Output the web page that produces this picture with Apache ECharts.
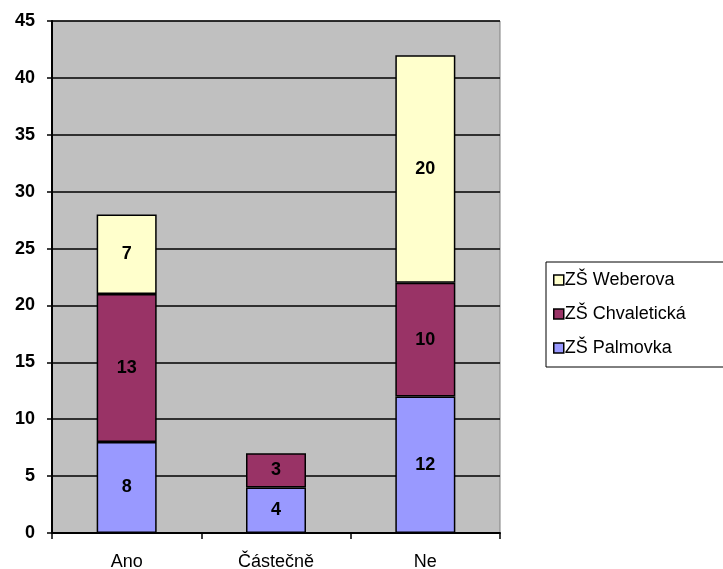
<!DOCTYPE html>
<html><head><meta charset="utf-8">
<script src="https://cdn.jsdelivr.net/npm/echarts@6/dist/echarts.min.js"></script>
<style>html,body{margin:0;padding:0;background:#fff}#c{width:723px;height:569px}</style>
</head><body><div id="c"></div>
<script>
const categories = ['Ano', 'Částečně', 'Ne'];
const palmovka = [8, 4, 12];
const chvaleticka = [13, 3, 10];
const weberova = [7, null, 20];
const seriesNames = ['ZŠ Palmovka', 'ZŠ Chvaletická', 'ZŠ Weberova'];
const colors = ['#9999FF', '#993366', '#FFFFCC'];

const chart = echarts.init(document.getElementById('c'));
const font = 'Arial, "Liberation Sans", sans-serif';
function mk(name, data, color) {
  return {
    name, type: 'bar', stack: 's', data, barWidth: 60,
    itemStyle: { color, borderColor: '#000', borderWidth: 1.5 },
    label: { show: true, position: 'inside', color: '#000', fontWeight: 'bold', fontSize: 18, fontFamily: font,
      formatter: p => p.value == null ? '' : p.value }
  };
}
chart.setOption({
  animation: false,
  grid: { left: 52, right: 223, top: 21, bottom: 36, outerBoundsMode: 'none', containLabel: false,
    show: true, backgroundColor: '#C0C0C0', borderColor: '#808080', borderWidth: 1 },
  legend: {
    orient: 'vertical', left: 546, top: 262, width: 176,
    data: ['ZŠ Weberova', 'ZŠ Chvaletická', 'ZŠ Palmovka'],
    itemWidth: 10, itemHeight: 10, itemGap: 16,
    padding: [9, 40, 10, 7],
    borderColor: '#000', borderWidth: 1,
    icon: 'rect',
    itemStyle: { borderColor: '#000', borderWidth: 1.5 },
    textStyle: { fontSize: 18, fontFamily: font, color: '#000', padding: [0, 0, 0, -4] }
  },
  xAxis: {
    type: 'category', data: categories,
    axisLine: { lineStyle: { color: '#000', width: 2 } },
    axisTick: { show: true, length: 6, lineStyle: { color: '#000', width: 1.5 } },
    axisLabel: { fontSize: 18, fontFamily: font, color: '#000', margin: 20 }
  },
  yAxis: {
    type: 'value', min: 0, max: 45, interval: 5,
    axisLine: { show: true, lineStyle: { color: '#000', width: 2 } },
    axisTick: { show: true, length: 5, lineStyle: { color: '#000', width: 1.5 } },
    axisLabel: { fontSize: 18, fontWeight: 'bold', fontFamily: font, color: '#000', margin: 17 },
    splitLine: { lineStyle: { color: '#000', width: 1.5 } }
  },
  series: [mk(seriesNames[0], palmovka, colors[0]), mk(seriesNames[1], chvaleticka, colors[1]), mk(seriesNames[2], weberova, colors[2])]
});
</script></body></html>
